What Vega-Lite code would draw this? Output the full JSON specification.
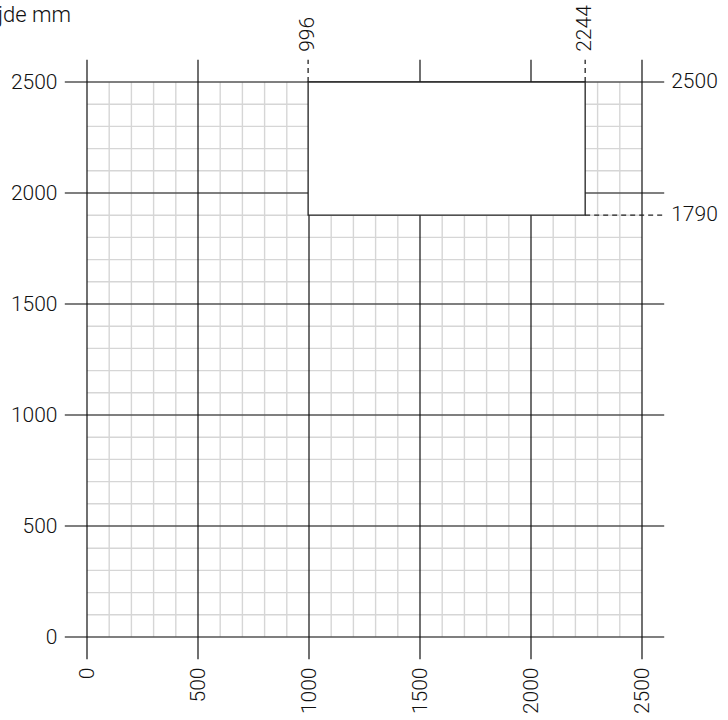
{
  "$schema": "https://vega.github.io/schema/vega-lite/v6.json",
  "width": 555,
  "height": 555,
  "autosize": {"type": "none"},
  "padding": {"left": 87, "top": 82, "right": 86, "bottom": 83},
  "background": "white",
  "config": {
    "view": {"stroke": null},
    "font": "Roboto",
    "text": {"font": "Roboto", "fontWeight": 300, "fontSize": 21, "color": "#111"}
  },
  "datasets": {
    "minor": [
      {"x": 100, "x2": 100, "y": 0, "y2": 2500},
      {"x": 200, "x2": 200, "y": 0, "y2": 2500},
      {"x": 300, "x2": 300, "y": 0, "y2": 2500},
      {"x": 400, "x2": 400, "y": 0, "y2": 2500},
      {"x": 600, "x2": 600, "y": 0, "y2": 2500},
      {"x": 700, "x2": 700, "y": 0, "y2": 2500},
      {"x": 800, "x2": 800, "y": 0, "y2": 2500},
      {"x": 900, "x2": 900, "y": 0, "y2": 2500},
      {"x": 1100, "x2": 1100, "y": 0, "y2": 2500},
      {"x": 1200, "x2": 1200, "y": 0, "y2": 2500},
      {"x": 1300, "x2": 1300, "y": 0, "y2": 2500},
      {"x": 1400, "x2": 1400, "y": 0, "y2": 2500},
      {"x": 1600, "x2": 1600, "y": 0, "y2": 2500},
      {"x": 1700, "x2": 1700, "y": 0, "y2": 2500},
      {"x": 1800, "x2": 1800, "y": 0, "y2": 2500},
      {"x": 1900, "x2": 1900, "y": 0, "y2": 2500},
      {"x": 2100, "x2": 2100, "y": 0, "y2": 2500},
      {"x": 2200, "x2": 2200, "y": 0, "y2": 2500},
      {"x": 2300, "x2": 2300, "y": 0, "y2": 2500},
      {"x": 2400, "x2": 2400, "y": 0, "y2": 2500},
      {"x": 0, "x2": 2500, "y": 100, "y2": 100},
      {"x": 0, "x2": 2500, "y": 200, "y2": 200},
      {"x": 0, "x2": 2500, "y": 300, "y2": 300},
      {"x": 0, "x2": 2500, "y": 400, "y2": 400},
      {"x": 0, "x2": 2500, "y": 600, "y2": 600},
      {"x": 0, "x2": 2500, "y": 700, "y2": 700},
      {"x": 0, "x2": 2500, "y": 800, "y2": 800},
      {"x": 0, "x2": 2500, "y": 900, "y2": 900},
      {"x": 0, "x2": 2500, "y": 1100, "y2": 1100},
      {"x": 0, "x2": 2500, "y": 1200, "y2": 1200},
      {"x": 0, "x2": 2500, "y": 1300, "y2": 1300},
      {"x": 0, "x2": 2500, "y": 1400, "y2": 1400},
      {"x": 0, "x2": 2500, "y": 1600, "y2": 1600},
      {"x": 0, "x2": 2500, "y": 1700, "y2": 1700},
      {"x": 0, "x2": 2500, "y": 1800, "y2": 1800},
      {"x": 0, "x2": 2500, "y": 1900, "y2": 1900},
      {"x": 0, "x2": 2500, "y": 2100, "y2": 2100},
      {"x": 0, "x2": 2500, "y": 2200, "y2": 2200},
      {"x": 0, "x2": 2500, "y": 2300, "y2": 2300},
      {"x": 0, "x2": 2500, "y": 2400, "y2": 2400}
    ],
    "majorH": [
      {"x": -100, "x2": 2600, "y": 0, "y2": 0},
      {"x": -100, "x2": 2600, "y": 500, "y2": 500},
      {"x": -100, "x2": 2600, "y": 1000, "y2": 1000},
      {"x": -100, "x2": 2600, "y": 1500, "y2": 1500},
      {"x": -100, "x2": 2600, "y": 2000, "y2": 2000},
      {"x": -100, "x2": 2600, "y": 2500, "y2": 2500}
    ],
    "majorV": [
      {"x": 0, "x2": 0, "y": -100, "y2": 2600},
      {"x": 500, "x2": 500, "y": -100, "y2": 2600},
      {"x": 1000, "x2": 1000, "y": -100, "y2": 2500},
      {"x": 1500, "x2": 1500, "y": -100, "y2": 2600},
      {"x": 2000, "x2": 2000, "y": -100, "y2": 2600},
      {"x": 2500, "x2": 2500, "y": -100, "y2": 2600}
    ],
    "box": [{"x": 996, "x2": 2244, "y": 1900, "y2": 2500}],
    "dashed": [
      {"x": 996, "x2": 996, "y": 2500, "y2": 2600},
      {"x": 2244, "x2": 2244, "y": 2500, "y2": 2600},
      {"x": 2244, "x2": 2600, "y": 1900, "y2": 1900}
    ],
    "toplabels": [
      {"x": 996, "y": 2600, "label": "996"},
      {"x": 2244, "y": 2600, "label": "2244"}
    ],
    "rightlabels": [
      {"x": 2600, "y": 2500, "label": "2500"},
      {"x": 2600, "y": 1900, "label": "1790"}
    ],
    "title": [{"x": -72, "y": 2770, "label": "Højde mm"}]
  },
  "encoding": {
    "x": {
      "field": "x", "type": "quantitative",
      "scale": {"domain": [0, 2500], "nice": false, "zero": false},
      "axis": {
        "values": [0, 500, 1000, 1500, 2000, 2500],
        "format": "d",
        "title": null,
        "grid": false,
        "ticks": false, "domain": false,
        "labelAngle": 270, "labelPadding": 30,
        "labelFont": "Roboto", "labelFontWeight": 300, "labelFontSize": 21, "labelColor": "#111"
      }
    },
    "y": {
      "field": "y", "type": "quantitative",
      "scale": {"domain": [0, 2500], "nice": false, "zero": false},
      "axis": {
        "values": [0, 500, 1000, 1500, 2000, 2500],
        "format": "d",
        "title": null,
        "grid": false,
        "ticks": false, "domain": false,
        "labelPadding": 30,
        "labelFont": "Roboto", "labelFontWeight": 300, "labelFontSize": 21, "labelColor": "#111"
      }
    }
  },
  "layer": [
    {
      "data": {"name": "minor"},
      "mark": {"type": "rule", "color": "#d6d6d6", "strokeWidth": 1.4},
      "encoding": {"x2": {"field": "x2"}, "y2": {"field": "y2"}}
    },
    {
      "data": {"name": "majorH"},
      "mark": {"type": "rule", "color": "#555", "strokeWidth": 1.3},
      "encoding": {"x2": {"field": "x2"}, "y2": {"field": "y2"}}
    },
    {
      "data": {"name": "majorV"},
      "mark": {"type": "rule", "color": "#111", "strokeWidth": 1.2},
      "encoding": {"x2": {"field": "x2"}, "y2": {"field": "y2"}}
    },
    {
      "data": {"name": "box"},
      "mark": {"type": "rect", "fill": "white", "stroke": "#222", "strokeWidth": 1.3},
      "encoding": {"x2": {"field": "x2"}, "y2": {"field": "y2"}}
    },
    {
      "data": {"name": "dashed"},
      "mark": {"type": "rule", "color": "#222", "strokeWidth": 1.3, "strokeDash": [5, 4]},
      "encoding": {"x2": {"field": "x2"}, "y2": {"field": "y2"}}
    },
    {
      "data": {"name": "toplabels"},
      "mark": {"type": "text", "angle": 270, "align": "left", "baseline": "middle", "dx": 8},
      "encoding": {"text": {"field": "label"}}
    },
    {
      "data": {"name": "rightlabels"},
      "mark": {"type": "text", "align": "left", "baseline": "middle", "dx": 7},
      "encoding": {"text": {"field": "label"}}
    },
    {
      "data": {"name": "title"},
      "mark": {"type": "text", "align": "right", "baseline": "alphabetic", "fontSize": 22, "fontWeight": 300},
      "encoding": {"text": {"field": "label"}}
    }
  ]
}
